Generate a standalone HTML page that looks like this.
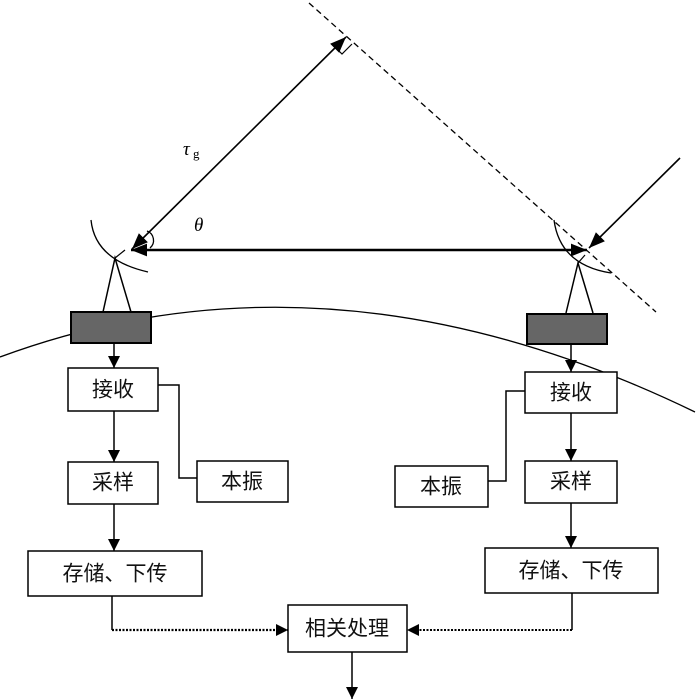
<!DOCTYPE html>
<html><head><meta charset="utf-8"><style>
html,body{margin:0;padding:0;background:#fff;}
svg{display:block}
text{font-family:"Liberation Serif","Noto Serif CJK SC","Noto Sans CJK SC",serif;}
.cn{font-family:"Liberation Sans","Noto Sans CJK SC",sans-serif;font-size:21px;text-anchor:middle;dominant-baseline:central;fill:#111}
</style></head><body>
<svg width="700" height="700" viewBox="0 0 700 700" xmlns="http://www.w3.org/2000/svg">
<defs>
<marker id="a" viewBox="0 0 10 10" refX="10" refY="5" markerWidth="7" markerHeight="7" orient="auto-start-reverse" markerUnits="userSpaceOnUse">
<path d="M0,0 L10,5 L0,10 z" fill="#000"/></marker>
<marker id="b" viewBox="0 0 10 10" refX="10" refY="5" markerWidth="16" markerHeight="16" orient="auto-start-reverse" markerUnits="userSpaceOnUse">
<path d="M0,1 L10,5 L0,9 z" fill="#000"/></marker>
<marker id="c" viewBox="0 0 10 10" refX="10" refY="5" markerWidth="12" markerHeight="12" orient="auto" markerUnits="userSpaceOnUse">
<path d="M0,0 L10,5 L0,10 z" fill="#000"/></marker>
</defs>
<g stroke="#000" fill="none" stroke-width="1.5">
<!-- earth -->
<path d="M0,357 Q330,235 695,412" stroke-width="1.3"/>
<!-- dashed wavefront -->
<line x1="309" y1="3" x2="656" y2="312" stroke-dasharray="6,4" stroke-width="1.3"/>
<!-- right angle -->
<path d="M333,45 L342,54 L352,44" stroke-width="1.2"/>
<!-- slant tau line -->
<line x1="132" y1="249" x2="346" y2="37" marker-start="url(#b)" marker-end="url(#b)" stroke-width="1.6"/>
<!-- baseline -->
<line x1="131" y1="250" x2="587" y2="250" marker-start="url(#b)" marker-end="url(#b)" stroke-width="2.4"/>
<!-- incoming -->
<line x1="680" y1="158" x2="589" y2="248" marker-end="url(#b)" stroke-width="1.6"/>
<!-- angle arc -->
<path d="M147,231 A10,10 0 0 1 150,248" stroke-width="1.3"/>
<!-- dishes -->
<path d="M91,220 Q95,260 148,272" stroke-width="1.3"/>
<path d="M554,220 Q560,265 611,273" stroke-width="1.3"/>
<line x1="115" y1="258" x2="125" y2="250" stroke-width="1.2"/>
<line x1="578" y1="263" x2="585" y2="255" stroke-width="1.2"/>
<!-- tripods -->
<path d="M103,312 L115,258 L131,312"/>
<path d="M566,313 L578,263 L593,313"/>
</g>
<rect x="71" y="312" width="80" height="31" fill="#666" stroke="#000" stroke-width="2"/>
<rect x="527" y="314" width="80" height="30" fill="#666" stroke="#000" stroke-width="2"/>
<text x="183" y="155" font-size="19" font-style="italic">τ</text><text x="193" y="158" font-size="13">g</text>
<text x="194" y="231" font-size="19" font-style="italic">θ</text>
<g stroke="#000" fill="#fff" stroke-width="1.5">
<rect x="68" y="368" width="90" height="43"/>
<rect x="68" y="462" width="90" height="42"/>
<rect x="197" y="461" width="91" height="41"/>
<rect x="28" y="551" width="174" height="45"/>
<rect x="525" y="372" width="92" height="41"/>
<rect x="525" y="461" width="92" height="42"/>
<rect x="395" y="466" width="93" height="41"/>
<rect x="485" y="548" width="173" height="45"/>
<rect x="288" y="605" width="119" height="47"/>
</g>
<g stroke="#000" fill="none" stroke-width="1.5">
<line x1="114" y1="343" x2="114" y2="368" marker-end="url(#c)"/>
<line x1="114" y1="411" x2="114" y2="462" marker-end="url(#c)"/>
<line x1="114" y1="504" x2="114" y2="551" marker-end="url(#c)"/>
<polyline points="158,385 179,385 179,478 197,478"/>
<line x1="571" y1="344" x2="571" y2="372" marker-end="url(#c)"/>
<line x1="571" y1="413" x2="571" y2="461" marker-end="url(#c)"/>
<line x1="571" y1="503" x2="571" y2="548" marker-end="url(#c)"/>
<polyline points="525,391 506,391 506,481 488,481"/>
<polyline points="112,596 112,630"/>
<line x1="112" y1="630" x2="288" y2="630" stroke-dasharray="2,1.5" stroke-width="2.2" marker-end="url(#c)"/>
<polyline points="572,593 572,630"/>
<line x1="572" y1="630" x2="407" y2="630" stroke-dasharray="2,1.5" stroke-width="2" marker-end="url(#c)"/>
<line x1="352" y1="652" x2="352" y2="699" marker-end="url(#c)"/>
</g>
<text class="cn" x="113" y="390">接收</text>
<text class="cn" x="113" y="483">采样</text>
<text class="cn" x="242" y="482">本振</text>
<text class="cn" x="115" y="574">存储、下传</text>
<text class="cn" x="571" y="393">接收</text>
<text class="cn" x="571" y="482">采样</text>
<text class="cn" x="441" y="487">本振</text>
<text class="cn" x="571" y="571">存储、下传</text>
<text class="cn" x="347" y="629">相关处理</text>
</svg>
</body></html>
